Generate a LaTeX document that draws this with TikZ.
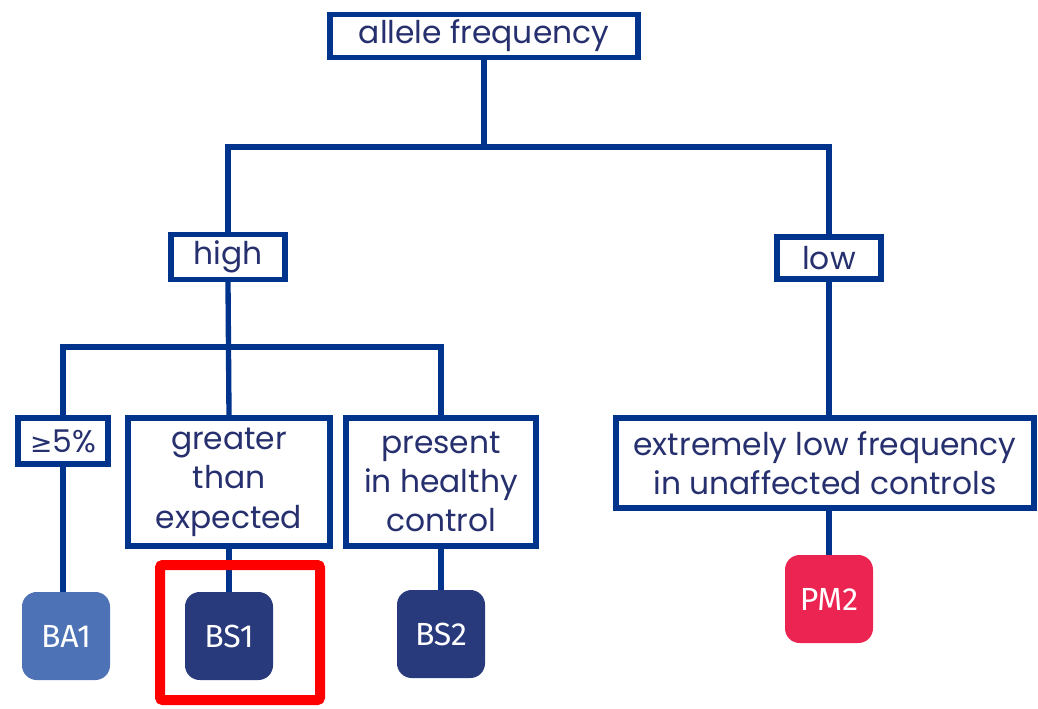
\documentclass[tikz,border=0pt]{standalone}
\usepackage{fontspec}
\setmainfont{Poppins}
\newfontfamily\labfont{Fira Sans}
\newfontfamily\symfont{DejaVu Sans}
\definecolor{navy}{RGB}{0,52,140}
\definecolor{txt}{RGB}{38,48,110}
\definecolor{lightblue}{RGB}{78,114,182}
\definecolor{darkblue}{RGB}{40,58,124}
\definecolor{pinkred}{RGB}{236,36,82}
\begin{document}
\begin{tikzpicture}[x=0.75pt,y=-0.75pt,
  box/.style={draw=navy, line width=4pt, fill=white, text=txt,
    font=\fontsize{23.5}{29.5}\selectfont, align=center, inner sep=0pt},
  sq/.style={rounded corners=11pt, minimum width=66pt, minimum height=66pt,
    text=white, font=\labfont\fontsize{24}{26}\selectfont, inner sep=0pt},
  wire/.style={draw=navy, line width=4pt}]
\useasboundingbox (0,0) rectangle (1038,709);
% nodes
\node[box, minimum width=231pt, minimum height=32pt] (af) at (484,36) {allele frequency};
\node[box, minimum width=85.5pt, minimum height=33.75pt] (high) at (228,257) {high};
\node[box, minimum width=78pt, minimum height=31.5pt] (low) at (829,258) {low};
\node[box, minimum width=67.5pt, minimum height=34.5pt] (pct) at (63,441) {{\symfont\fontsize{20}{22}\selectfont≥}5\%};
\node[box, minimum width=151.5pt, minimum height=96pt] (ge) at (229,482) {greater\\than\\expected};
\node[box, minimum width=142.5pt, minimum height=96pt] (ph) at (441,482) {present\\in healthy\\control};
\node[box, minimum width=313.5pt, minimum height=67.5pt] (el) at (825,463) {extremely low frequency\\in unaffected controls};
\node[sq, fill=lightblue] (ba1) at (66,636) {BA1};
\node[sq, fill=darkblue] (bs1) at (229,636) {BS1};
\node[sq, fill=darkblue] (bs2) at (441,634) {BS2};
\node[sq, fill=pinkred] (pm2) at (829,599) {PM2};
\coordinate (j1) at (484,147);
\coordinate (j2) at (228,347);
% connectors
\draw[wire] (af.south) -- (j1);
\draw[wire] (high.north) |- (j1) -| (low.north);
\draw[wire] (high.south) -- (ge.north);
\draw[wire] (pct.north) |- (j2) -| (ph.north);
\draw[wire] (low.south) -- (low.south |- el.north);
\draw[wire] (pct.south) -- (pct.south |- ba1.north);
\draw[wire] (ge.south) -- (bs1.north);
\draw[wire] (ph.south) -- (bs2.north);
\draw[wire] (el.south -| pm2.north) -- (pm2.north);
% highlight
\draw[red, line width=7.5pt, rounded corners=2pt] (160,565) rectangle (320,700);
\end{tikzpicture}
\end{document}
